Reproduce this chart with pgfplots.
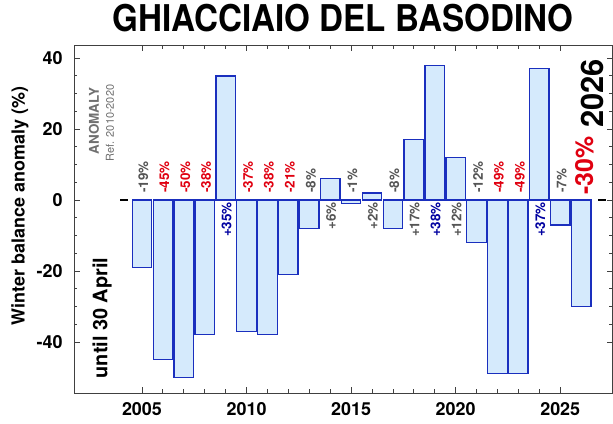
\documentclass[border=0pt]{standalone}
\usepackage{fontspec}
\setmainfont{TeX Gyre Heros}
\usepackage{pgfplots}
\pgfplotsset{compat=1.18}
\definecolor{barfill}{HTML}{D5EAFC}
\definecolor{baredge}{HTML}{1A2FBE}
\definecolor{lblred}{HTML}{E00010}
\definecolor{lblblue}{HTML}{0000A0}
\definecolor{lblgray}{HTML}{555555}
\definecolor{anomgray}{HTML}{707070}
\tikzset{
 neglbl/.style={font=\fontsize{13.5}{15}\selectfont\bfseries, inner sep=0pt, yshift=7bp, xshift=1.5bp, rotate=90, anchor=west},
 poslbl/.style={font=\fontsize{13.5}{15}\selectfont\bfseries, inner sep=0pt, yshift=-2bp, xshift=1bp, rotate=90, anchor=east},
}
\begin{document}
\begin{tikzpicture}
\useasboundingbox (0,0) rectangle (613bp,424bp);
\begin{axis}[
 at={(74bp,31bp)}, anchor=south west,
 scale only axis, width=538.5bp, height=348bp,
 xmin=2001.75, xmax=2027.5, ymin=-54.4, ymax=43.7,
 axis line style={black!75, line width=0.8bp},
 xtick={2005,2010,2015,2020,2025},
 xticklabels={2005,2010,2015,2020,2025},
 minor x tick num=4,
 ytick={-40,-20,0,20,40},
 yticklabels={-40,-20,0,20,40},
 minor y tick num=3,
 tick align=inside,
 major tick length=6bp, minor tick length=3.5bp,
 every tick/.style={black!75, line width=0.8bp},
 ticklabel style={font=\fontsize{18}{20}\selectfont\bfseries},
 xticklabel style={yshift=-6bp},
 yticklabel style={xshift=-8bp},
 clip=false,
]
\addplot[black, line width=1.3bp, forget plot] coordinates {(2003.96,0) (2004.34,0)};
\addplot[black, line width=1.3bp, forget plot] coordinates {(2026.83,0) (2027.17,0)};
\addplot[ybar, bar width=0.93, fill=barfill, draw=baredge, line width=1.3bp] table {
x y
2005 -19
2006 -45
2007 -50
2008 -38
2009 35
2010 -37
2011 -38
2012 -21
2013 -8
2014 6
2015 -1
2016 2
2017 -8
2018 17
2019 38
2020 12
2021 -12
2022 -49
2023 -49
2024 37
2025 -7
2026 -30
};
\node[neglbl, text=lblgray] at (axis cs:2005,0) {-19\%};
\node[neglbl, text=lblred] at (axis cs:2006,0) {-45\%};
\node[neglbl, text=lblred] at (axis cs:2007,0) {-50\%};
\node[neglbl, text=lblred] at (axis cs:2008,0) {-38\%};
\node[poslbl, text=lblblue] at (axis cs:2009,0) {+35\%};
\node[neglbl, text=lblred] at (axis cs:2010,0) {-37\%};
\node[neglbl, text=lblred] at (axis cs:2011,0) {-38\%};
\node[neglbl, text=lblred] at (axis cs:2012,0) {-21\%};
\node[neglbl, text=lblgray] at (axis cs:2013,0) {-8\%};
\node[poslbl, text=lblgray] at (axis cs:2014,0) {+6\%};
\node[neglbl, text=lblgray] at (axis cs:2015,0) {-1\%};
\node[poslbl, text=lblgray] at (axis cs:2016,0) {+2\%};
\node[neglbl, text=lblgray] at (axis cs:2017,0) {-8\%};
\node[poslbl, text=lblgray] at (axis cs:2018,0) {+17\%};
\node[poslbl, text=lblblue] at (axis cs:2019,0) {+38\%};
\node[poslbl, text=lblgray] at (axis cs:2020,0) {+12\%};
\node[neglbl, text=lblgray] at (axis cs:2021,0) {-12\%};
\node[neglbl, text=lblred] at (axis cs:2022,0) {-49\%};
\node[neglbl, text=lblred] at (axis cs:2023,0) {-49\%};
\node[poslbl, text=lblblue] at (axis cs:2024,0) {+37\%};
\node[neglbl, text=lblgray] at (axis cs:2025,0) {-7\%};
\end{axis}
% title
\node[anchor=base, inner sep=0pt, xscale=0.9, font=\fontsize{37}{40}\selectfont\bfseries] at (343bp,392bp) {GHIACCIAIO DEL BASODINO};
% y label
\node[rotate=90, inner sep=0pt, font=\fontsize{18}{20}\selectfont\bfseries] at (20bp,218bp) {Winter balance anomaly (\%)};
\node[rotate=90, inner sep=0pt, font=\fontsize{20}{22}\selectfont\bfseries] at (102bp,106bp) {until 30 April};
\node[rotate=90, inner sep=0pt, text=anomgray, font=\fontsize{13.5}{15}\selectfont\bfseries] at (94bp,303bp) {ANOMALY};
\node[rotate=90, inner sep=0pt, text=anomgray, font=\fontsize{11}{13}\selectfont] at (110bp,301bp) {Ref. 2010-2020};
% 2026 annotation
\node[rotate=90, anchor=base west, inner sep=0pt, font=\fontsize{31}{34}\selectfont\bfseries] at (603bp,296bp) {2026};
\node[rotate=90, anchor=base west, inner sep=0pt, text=lblred, font=\fontsize{25}{28}\selectfont\bfseries] at (593bp,229bp) {-30\%};
\end{tikzpicture}
\end{document}
